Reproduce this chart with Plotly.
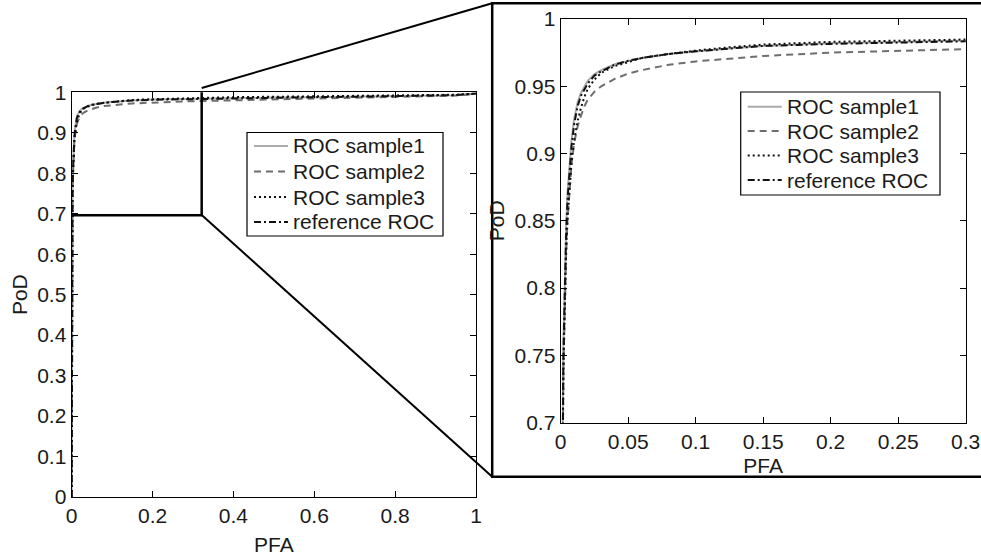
import plotly.graph_objects as go

# ---- data ----
pfa = [0, 0.0005, 0.001, 0.002, 0.003, 0.004, 0.005, 0.0065, 0.008, 0.01, 0.0125, 0.015,
       0.0175, 0.02, 0.025, 0.03, 0.04, 0.05, 0.06, 0.08, 0.1, 0.125, 0.15, 0.2, 0.25, 0.3,
       0.4, 0.5, 0.6, 0.7, 0.8, 0.9, 0.95, 1.0]
pod_sample1 = [0, 0.40, 0.62, 0.76, 0.81, 0.845, 0.87, 0.893, 0.91, 0.926, 0.938, 0.945,
               0.950, 0.954, 0.959, 0.962, 0.9665, 0.969, 0.971, 0.974, 0.976, 0.978, 0.980,
               0.982, 0.983, 0.984, 0.986, 0.987, 0.988, 0.989, 0.990, 0.992, 0.993, 0.997]
pod_sample2 = [0, 0.38, 0.60, 0.74, 0.79, 0.825, 0.85, 0.875, 0.892, 0.908, 0.92, 0.928,
               0.935, 0.940, 0.946, 0.950, 0.9555, 0.9595, 0.962, 0.966, 0.9685, 0.9705,
               0.9725, 0.975, 0.9765, 0.978, 0.980, 0.982, 0.984, 0.986, 0.988, 0.990, 0.992, 0.996]
pod_sample3 = [0, 0.38, 0.60, 0.74, 0.79, 0.825, 0.85, 0.875, 0.893, 0.91, 0.924, 0.934,
               0.942, 0.948, 0.955, 0.960, 0.965, 0.968, 0.971, 0.974, 0.9765, 0.979, 0.981,
               0.983, 0.9845, 0.986, 0.988, 0.989, 0.990, 0.991, 0.992, 0.993, 0.994, 0.997]
pod_reference = [0, 0.40, 0.61, 0.75, 0.80, 0.84, 0.865, 0.888, 0.905, 0.922, 0.935, 0.943,
                 0.948, 0.952, 0.958, 0.961, 0.966, 0.969, 0.971, 0.974, 0.976, 0.978, 0.980,
                 0.9815, 0.9825, 0.9835, 0.985, 0.987, 0.988, 0.989, 0.990, 0.992, 0.993, 0.997]

series_names = ["ROC sample1", "ROC sample2", "ROC sample3", "reference ROC"]
series_values = [pod_sample1, pod_sample2, pod_sample3, pod_reference]

main_xticks = [0, 0.2, 0.4, 0.6, 0.8, 1]
main_xticklabels = ["0", "0.2", "0.4", "0.6", "0.8", "1"]
main_yticks = [0, 0.1, 0.2, 0.3, 0.4, 0.5, 0.6, 0.7, 0.8, 0.9, 1]
main_yticklabels = ["0", "0.1", "0.2", "0.3", "0.4", "0.5", "0.6", "0.7", "0.8", "0.9", "1"]
zoom_xticks = [0, 0.05, 0.1, 0.15, 0.2, 0.25, 0.3]
zoom_xticklabels = ["0", "0.05", "0.1", "0.15", "0.2", "0.25", "0.3"]
zoom_yticks = [0.7, 0.75, 0.8, 0.85, 0.9, 0.95, 1]
zoom_yticklabels = ["0.7", "0.75", "0.8", "0.85", "0.9", "0.95", "1"]

# zoom window drawn on the main axes (data units)
zoom_x = [-0.0067, 0.3215]
zoom_y = [0.696, 1.0099]

# ---- styling ----
W, H = 981, 556
FONT = "Liberation Sans, Arial, Helvetica, sans-serif"
FS = 21
TXT = "#1a1a1a"
styles = [
    dict(color="#ababab", width=2, dash="solid"),
    dict(color="#6e6e6e", width=2, dash="7px,5px"),
    dict(color="#111111", width=2, dash="2px,3px"),
    dict(color="#111111", width=2, dash="7px,3px,2px,3px"),
]

def px_x(v):
    return v / W

def px_y(v):
    return 1 - v / H

fig = go.Figure()
for name, vals, st in zip(series_names, series_values, styles):
    fig.add_trace(go.Scatter(x=pfa, y=vals, mode="lines", name=name, line=st,
                             xaxis="x", yaxis="y", showlegend=False))
for name, vals, st in zip(series_names, series_values, styles):
    fig.add_trace(go.Scatter(x=pfa, y=vals, mode="lines", name=name, line=st,
                             xaxis="x2", yaxis="y2", showlegend=False))

axis_common = dict(showline=True, linecolor="black", linewidth=1.3, mirror="allticks",
                   ticks="inside", ticklen=6, tickcolor="black", tickwidth=1,
                   showgrid=False, zeroline=False, automargin=False,
                   tickfont=dict(family=FONT, size=FS, color=TXT))
title_font = dict(family=FONT, size=FS, color=TXT)

fig.update_layout(
    width=W, height=H, autosize=False,
    template="none",
    paper_bgcolor="white", plot_bgcolor="white",
    margin=dict(l=0, r=0, t=0, b=0),
    font=dict(family=FONT, size=FS, color=TXT),
    showlegend=False,
    xaxis=dict(domain=[px_x(71.7), px_x(476)], range=[0, 1], tickvals=main_xticks,
               ticktext=main_xticklabels, anchor="y",
               title=dict(text="PFA", standoff=14, font=title_font), **axis_common),
    yaxis=dict(domain=[px_y(497), px_y(92.3)], range=[0, 1], tickvals=main_yticks,
               ticktext=main_yticklabels, anchor="x",
               title=dict(text="PoD", standoff=3, font=title_font), **axis_common),
    xaxis2=dict(domain=[px_x(560.7), px_x(965.7)], range=[0, 0.3], tickvals=zoom_xticks,
                ticktext=zoom_xticklabels, anchor="y2",
                title=dict(text="PFA", standoff=6, font=title_font), **axis_common),
    yaxis2=dict(domain=[px_y(422.7), px_y(19)], range=[0.7, 1], tickvals=zoom_yticks,
                ticktext=zoom_yticklabels, anchor="x2",
                title=dict(text="PoD", standoff=4, font=title_font), **axis_common),
)

# zoom rectangle on the main axes
fig.add_shape(type="rect", xref="x", yref="y", x0=zoom_x[0], x1=zoom_x[1],
              y0=zoom_y[0], y1=zoom_y[1], line=dict(color="black", width=2.5), layer="above")
# inset frame
fig.add_shape(type="rect", xref="paper", yref="paper", x0=px_x(492.2), x1=px_x(990),
              y0=px_y(476.7), y1=px_y(3.3), line=dict(color="black", width=2.5), layer="above")
# connector lines
fig.add_shape(type="line", xref="paper", yref="paper", x0=px_x(201.7), y0=px_y(88),
              x1=px_x(492.2), y1=px_y(3.3), line=dict(color="black", width=2))
fig.add_shape(type="line", xref="paper", yref="paper", x0=px_x(201.7), y0=px_y(215),
              x1=px_x(492.2), y1=px_y(476.7), line=dict(color="black", width=2))

# legends (MATLAB style boxed legends, one per axes)
def add_legend(left, top, right, bottom, rows_y):
    fig.add_shape(type="rect", xref="paper", yref="paper", x0=px_x(left), x1=px_x(right),
                  y0=px_y(bottom), y1=px_y(top), line=dict(color="black", width=1.2),
                  fillcolor="white", layer="above")
    for name, st, ry in zip(series_names, styles, rows_y):
        fig.add_shape(type="line", xref="paper", yref="paper",
                      x0=px_x(left + 7), x1=px_x(left + 41), y0=px_y(ry), y1=px_y(ry),
                      line=st, layer="above")
        fig.add_annotation(x=px_x(left + 44), y=px_y(ry), xref="paper", yref="paper",
                           text=name, showarrow=False, xanchor="left", yanchor="middle",
                           font=dict(family=FONT, size=FS, color=TXT))

add_legend(247, 132.5, 443, 236, [146, 171.5, 197, 222])
add_legend(740.7, 92, 940, 195, [106.7, 131, 155.5, 180])

# remove the default page margin so the figure starts at the window's top-left corner
fig.write_html("out.html",
               config={"displayModeBar": False, "staticPlot": False},
               post_script="document.body.style.margin='0';document.body.style.overflow='hidden';")
